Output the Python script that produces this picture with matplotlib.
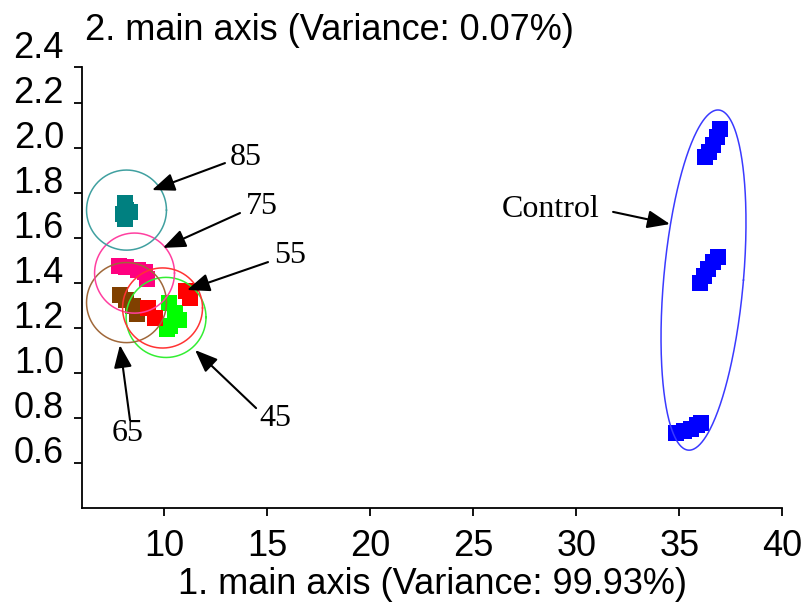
import numpy as np
import matplotlib
matplotlib.use("Agg")
import matplotlib.pyplot as plt

# ---------------- data ----------------
groups = ["45", "65", "75", "85", "55", "Control"]
colors = {"45": "#00ff00", "65": "#804000", "75": "#ff0080", "85": "#008080",
          "55": "#ff0000", "Control": "#0000ff"}
ring_colors = {"45": "#33ee33", "65": "#a0683a", "75": "#ff3fa0", "85": "#40a0a0",
               "55": "#ff3333", "Control": "#3a3aff"}

x_45 = [10.22, 10.51, 10.71, 10.27, 10.13]
y_45 = [1.311, 1.267, 1.236, 1.209, 1.196]
x_65 = [7.84, 8.14, 8.48, 8.67]
y_65 = [1.347, 1.324, 1.298, 1.262]
x_75 = [7.80, 8.14, 8.72, 9.06, 9.16]
y_75 = [1.476, 1.471, 1.458, 1.449, 1.418]
x_85 = [8.09, 8.14, 8.33, 7.99, 8.09]
y_85 = [1.756, 1.724, 1.716, 1.707, 1.684]
x_55 = [9.20, 9.54, 11.05, 11.24]
y_55 = [1.289, 1.244, 1.364, 1.333]
x_ctrl = [36.24, 36.44, 36.63, 36.83, 36.97,
          36.00, 36.19, 36.39, 36.63, 36.87,
          34.83, 35.22, 35.56, 35.85, 36.05]
y_ctrl = [1.958, 1.982, 2.013, 2.049, 2.084,
          1.400, 1.431, 1.462, 1.493, 1.516,
          0.733, 0.742, 0.751, 0.769, 0.778]

points = {"45": (x_45, y_45), "65": (x_65, y_65), "75": (x_75, y_75),
          "85": (x_85, y_85), "55": (x_55, y_55), "Control": (x_ctrl, y_ctrl)}

# ellipse: centre x, centre y, half-width x, half-height y, shear
ell_cx = {"45": 10.08, "65": 8.16, "75": 8.55, "85": 8.16, "55": 9.91, "Control": 36.17}
ell_cy = {"45": 1.247, "65": 1.313, "75": 1.444, "85": 1.724, "55": 1.289, "Control": 1.413}
ell_rx = {"45": 1.94, "65": 1.94, "75": 1.94, "85": 1.94, "55": 1.94, "Control": 1.94}
ell_ry = {"45": 0.178, "65": 0.178, "75": 0.178, "85": 0.178, "55": 0.178, "Control": 0.756}
ell_sh = {"45": 0.0, "65": 0.0, "75": 0.0, "85": 0.0, "55": 0.0, "Control": 0.70}

# labels: text position and arrow tail/tip
lab_text = ["85", "75", "55", "65", "45", "Control"]
lab_x = [13.96, 14.74, 16.10, 8.23, 15.37, 28.77]
lab_y = [1.956, 1.742, 1.524, 0.729, 0.796, 1.728]
arr_x0 = [12.94, 13.67, 15.03, 8.33, 14.45, 31.78]
arr_y0 = [1.933, 1.711, 1.493, 0.791, 0.844, 1.716]
arr_x1 = [9.40, 9.93, 11.10, 7.84, 11.49, 34.54]
arr_y1 = [1.813, 1.556, 1.369, 1.124, 1.102, 1.662]

x_ticks = [10, 15, 20, 25, 30, 35, 40]
y_ticks = [0.6, 0.8, 1.0, 1.2, 1.4, 1.6, 1.8, 2.0, 2.2, 2.4]
y_tick_labels = ["0.6", "0.8", "1.0", "1.2", "1.4", "1.6", "1.8", "2.0", "2.2", "2.4"]
x_title = "1. main axis (Variance: 99.93%)"
y_title = "2. main axis (Variance: 0.07%)"

# ---------------- figure ----------------
W, H = 805, 603
fig = plt.figure(figsize=(W / 100, H / 100), dpi=100)
xlo, xhi = 6.0, 40.0
ylo, yhi = 0.4, 2.42
px_x = 20.6
px_y = 225.0
left_px, bottom_px = 82, 508
ax = fig.add_axes([left_px / W, 1 - bottom_px / H,
                   (xhi - xlo) * px_x / W, (yhi - ylo) * px_y / H])
ax.set_xlim(xlo, xhi)
ax.set_ylim(ylo, yhi)

sans = "Liberation Sans"
serif = "Liberation Serif"

for g in groups:
    xs, ys = points[g]
    ax.scatter(xs, ys, marker="s", s=118, c=colors[g], linewidths=0, zorder=3)

t = np.linspace(0, 2 * np.pi, 400)
for g in groups:
    ex = ell_cx[g] + ell_rx[g] * np.cos(t) + ell_sh[g] * np.sin(t)
    ey = ell_cy[g] + ell_ry[g] * np.sin(t)
    ax.plot(ex, ey, color=ring_colors[g], lw=1.1, zorder=4)

for i, txt in enumerate(lab_text):
    ax.text(lab_x[i], lab_y[i], txt, fontsize=23, family=serif,
            ha="center", va="center", zorder=5)
    ax.annotate("", xy=(arr_x1[i], arr_y1[i]), xytext=(arr_x0[i], arr_y0[i]),
                arrowprops=dict(arrowstyle="-|>,head_length=0.55,head_width=0.22",
                                color="black", lw=1.5, mutation_scale=25,
                                shrinkA=0, shrinkB=0), zorder=5)

for s in ["top", "right"]:
    ax.spines[s].set_visible(False)
ax.spines["left"].set_bounds(ylo, 2.36)
for s in ["left", "bottom"]:
    ax.spines[s].set_linewidth(1.3)

ax.set_xticks(x_ticks)
ax.set_xticklabels([str(v) for v in x_ticks], fontsize=26, family=sans)
ax.set_yticks(y_ticks)
ax.set_yticklabels(y_tick_labels, fontsize=26, family=sans)
ax.set_yticks([2.36], minor=True)
ax.tick_params(axis="both", which="both", direction="out", length=6, width=1.3)
ax.tick_params(axis="x", pad=9)
ax.tick_params(axis="y", pad=7)
ax.yaxis.get_major_ticks()[-1].tick1line.set_visible(False)
for lab in ax.get_yticklabels():
    lab.set_verticalalignment("baseline")

ax.set_xlabel(x_title, fontsize=26, family=sans, labelpad=2)
fig.text(85 / W, 1 - 40 / H, y_title, fontsize=26, family=sans,
         ha="left", va="baseline")

fig.savefig("out.png", dpi=100)
